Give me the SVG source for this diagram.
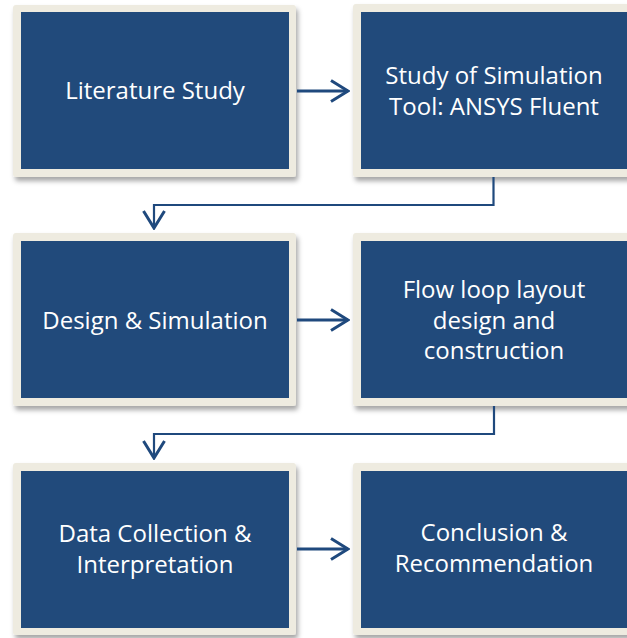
<svg xmlns="http://www.w3.org/2000/svg" width="627" height="638" viewBox="0 0 627 638">
<defs>
<filter id="sh" x="-10%" y="-10%" width="130%" height="130%">
<feDropShadow dx="2" dy="4" stdDeviation="2.5" flood-color="#000" flood-opacity="0.35"/>
</filter>
<marker id="ah" viewBox="0 0 20 24" refX="18" refY="12" markerWidth="20" markerHeight="24" markerUnits="userSpaceOnUse" orient="auto">
<path d="M1,1.5 L18,12 L1,22.5" fill="none" stroke="#1f497d" stroke-width="3"/>
</marker>
</defs>
<style>
.frame{fill:#eeebe0;filter:url(#sh)}
.inner{fill:#214a7b}
.t{font-family:"Open Sans","Liberation Sans",sans-serif;font-size:24px;fill:#fff;text-anchor:middle}
.c{fill:none;stroke:#1f497d;stroke-width:2.2}
.a{fill:none;stroke:#1f497d;stroke-width:3}
</style>
<g id="n1">
<rect class="frame" x="13" y="5" width="283" height="172" rx="3"/>
<rect class="inner" x="21" y="12" width="268" height="157"/>
<text class="t" x="155" y="99">Literature Study</text>
</g>
<g id="n2">
<rect class="frame" x="353" y="4" width="283" height="173" rx="3"/>
<rect class="inner" x="361" y="12" width="268" height="157"/>
<text class="t" x="494" y="84">Study of Simulation</text>
<text class="t" x="494" y="115">Tool: ANSYS Fluent</text>
</g>
<g id="n3">
<rect class="frame" x="13" y="233" width="283" height="173" rx="3"/>
<rect class="inner" x="21" y="241" width="268" height="157"/>
<text class="t" x="155" y="328.5">Design &amp; Simulation</text>
</g>
<g id="n4">
<rect class="frame" x="353" y="233" width="283" height="173" rx="3"/>
<rect class="inner" x="361" y="241" width="268" height="157"/>
<text class="t" x="494" y="297.5">Flow loop layout</text>
<text class="t" x="494" y="328.5">design and</text>
<text class="t" x="494" y="358.5">construction</text>
</g>
<g id="n5">
<rect class="frame" x="13" y="463" width="283" height="172" rx="3"/>
<rect class="inner" x="21" y="471" width="268" height="157"/>
<text class="t" x="155" y="542">Data Collection &amp;</text>
<text class="t" x="155" y="573">Interpretation</text>
</g>
<g id="n6">
<rect class="frame" x="353" y="463" width="283" height="172" rx="3"/>
<rect class="inner" x="361" y="471" width="268" height="157"/>
<text class="t" x="494" y="541">Conclusion &amp;</text>
<text class="t" x="494" y="572">Recommendation</text>
</g>
<g id="connectors">
<path class="a" d="M297,91 H348" marker-end="url(#ah)"/>
<path class="a" d="M297,320 H348" marker-end="url(#ah)"/>
<path class="a" d="M297,549 H348" marker-end="url(#ah)"/>
<path class="c" d="M493.5,177 V205 H154 V228" marker-end="url(#ah)"/>
<path class="c" d="M494,406 V434 H154 V458" marker-end="url(#ah)"/>
</g>
</svg>
